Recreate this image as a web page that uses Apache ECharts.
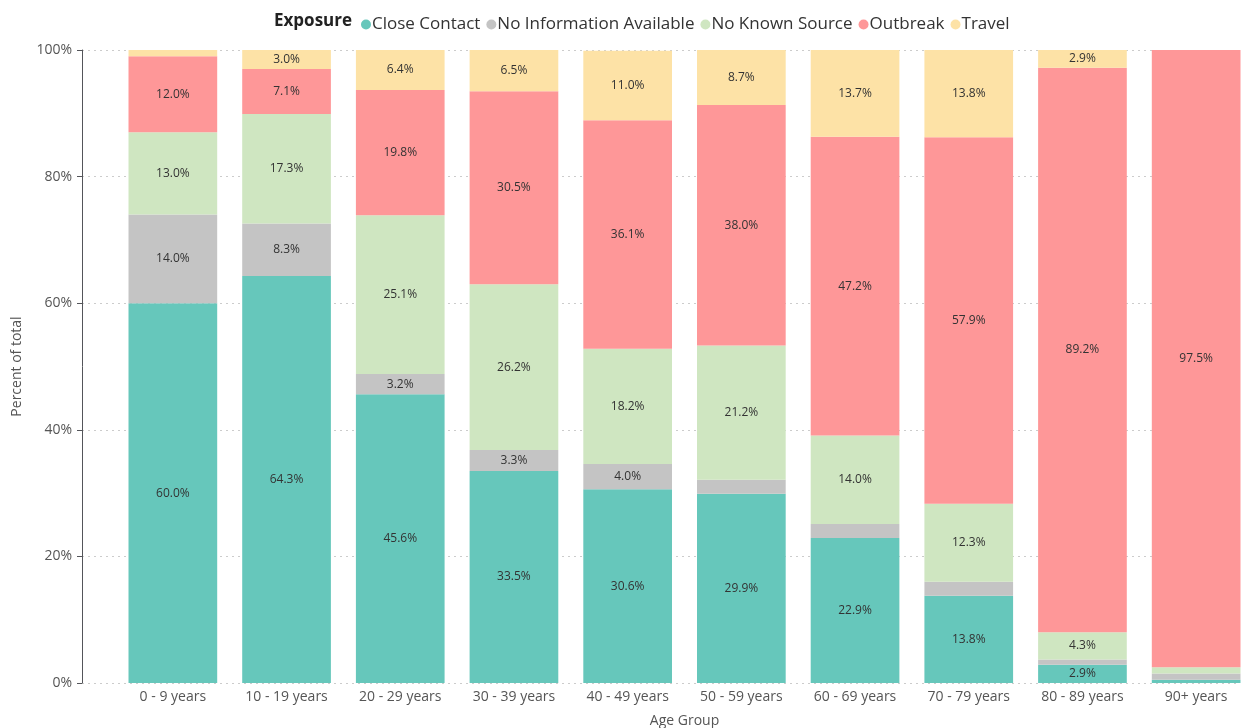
<!DOCTYPE html>
<html>
<head>
<meta charset="utf-8">
<script src="https://cdn.jsdelivr.net/npm/echarts@6/dist/echarts.min.js"></script>
<style>
  html, body { margin: 0; padding: 0; background: #fff; }
  #chart { width: 1244px; height: 728px; }
</style>
</head>
<body>
<div id="chart"></div>
<script>
// 年龄组
const ageGroups = ['0 - 9 years', '10 - 19 years', '20 - 29 years', '30 - 39 years', '40 - 49 years',
    '50 - 59 years', '60 - 69 years', '70 - 79 years', '80 - 89 years', '90+ years'];

// 各暴露来源占比 (%)
const closeContact = [60.0, 64.3, 45.6, 33.5, 30.6, 29.9, 22.9, 13.8, 2.9, 0.5];
const noInformation = [14.0, 8.3, 3.2, 3.3, 4.0, 2.2, 2.2, 2.2, 0.8, 1.0];
const noKnownSource = [13.0, 17.3, 25.1, 26.2, 18.2, 21.2, 14.0, 12.3, 4.3, 1.0];
const outbreak = [12.0, 7.1, 19.8, 30.5, 36.1, 38.0, 47.2, 57.9, 89.2, 97.5];
const travel = [1.0, 3.0, 6.4, 6.5, 11.0, 8.7, 13.7, 13.8, 2.9, 0.0];

const yTicks = [0, 20, 40, 60, 80, 100];

(function () {
    let myChart = echarts.init(document.getElementById('chart'));
    const font = '"Open Sans", "Noto Sans", sans-serif';

    function makeSeries(name, data, color) {
        return {
            name: name,
            type: 'bar',
            stack: 'total',
            xAxisIndex: 1,
            yAxisIndex: 1,
            barCategoryGap: '22%',
            itemStyle: { color: color },
            label: {
                show: true,
                position: 'inside',
                color: '#333',
                fontSize: 12,
                fontFamily: font,
                formatter: function (p) {
                    return p.value >= 2.5 ? p.value.toFixed(1) + '%' : '';
                }
            },
            data: data
        };
    }

    let option = {
        animation: false,
        textStyle: { fontFamily: font },
        legend: {
            top: 11,
            left: 356,
            icon: 'circle',
            itemWidth: 10,
            itemHeight: 10,
            itemGap: 6,
            textStyle: { fontSize: 17, color: '#333', padding: [0, 0, 0, -4] },
            data: ['Close Contact', 'No Information Available', 'No Known Source', 'Outbreak', 'Travel']
        },
        graphic: [{
            type: 'text',
            left: 274,
            top: 13,
            style: { text: 'Exposure', font: 'bold 17px ' + font, fill: '#222' }
        }],
        grid: [
            { left: 82, right: 4, top: 50, bottom: 45, outerBoundsMode: 'none' },
            { left: 116, right: -9, top: 50, bottom: 45, outerBoundsMode: 'none' }
        ],
        xAxis: [
            { type: 'value', gridIndex: 0, show: false, min: 0, max: 1 },
            {
                type: 'category',
                gridIndex: 1,
                data: ageGroups,
                axisLine: { show: false },
                axisTick: { show: false },
                axisLabel: { color: '#555', fontSize: 14, margin: 7 },
                name: 'Age Group',
                nameLocation: 'middle',
                nameGap: 31,
                nameTextStyle: { color: '#555', fontSize: 14 }
            }
        ],
        yAxis: [
            {
                type: 'value',
                gridIndex: 0,
                min: 0,
                max: 100,
                interval: 20,
                axisLabel: {
                    color: '#555',
                    fontSize: 14,
                    margin: 10,
                    formatter: function (v) { return yTicks.indexOf(v) >= 0 ? v + '%' : ''; }
                },
                splitLine: { lineStyle: { color: '#ccc', type: [2, 4] } },
                name: 'Percent of total',
                nameLocation: 'middle',
                nameGap: 58,
                nameTextStyle: { color: '#555', fontSize: 14 }
            },
            {
                type: 'value',
                gridIndex: 1,
                min: 0,
                max: 100,
                show: false,
                splitLine: { show: false }
            }
        ],
        series: [
            makeSeries('Close Contact', closeContact, '#66c7bb'),
            makeSeries('No Information Available', noInformation, '#c4c4c4'),
            makeSeries('No Known Source', noKnownSource, '#cfe6c1'),
            makeSeries('Outbreak', outbreak, '#fe9798'),
            makeSeries('Travel', travel, '#fde2a6')
        ]
    };
    myChart.setOption(option);
    window.addEventListener('resize', function () {
        myChart.resize()
    })
})();
</script>
</body>
</html>
